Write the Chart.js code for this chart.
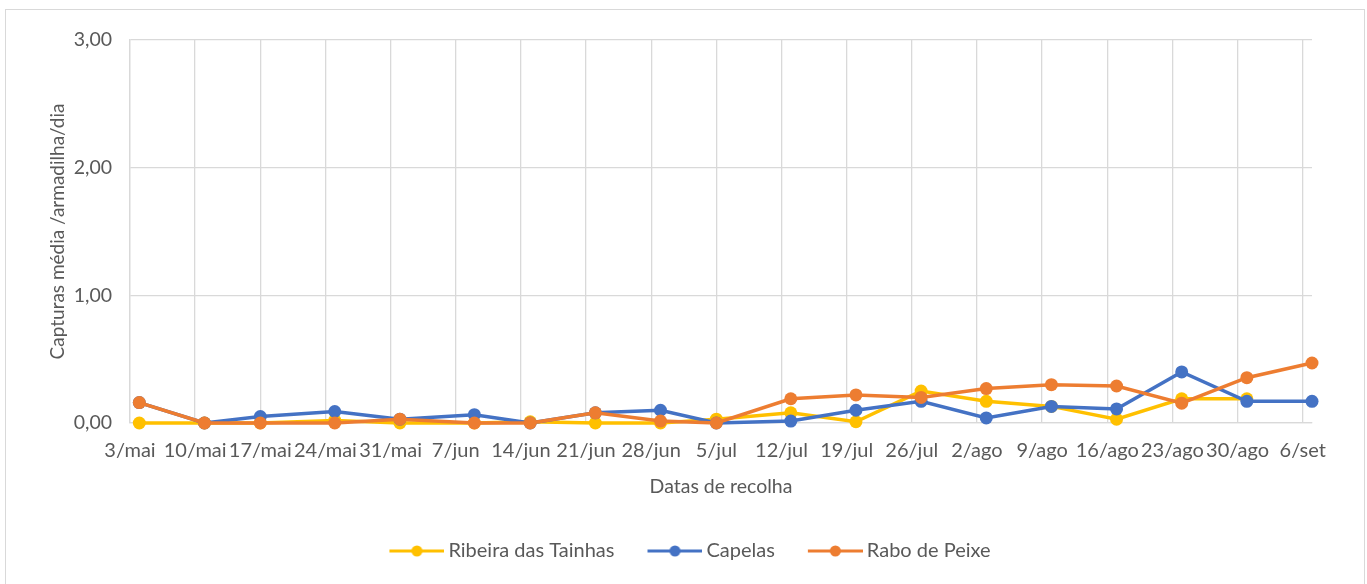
<!DOCTYPE html>
<html>
<head>
<meta charset="utf-8">
<script src="https://cdn.jsdelivr.net/npm/chart.js@4.4.0/dist/chart.umd.min.js"></script>
<style>
  body { margin: 0; background: #fff; }
  #wrap { position: relative; width: 1367px; height: 584px; overflow: hidden; }
  #frame { position: absolute; left: 5px; top: 9px; width: 1358px; height: 600px; border: 1.5px solid #d9d9d9; pointer-events: none; }
  canvas { position: absolute; left: 0; top: 0; }
</style>
</head>
<body>
<div id="wrap">
  <div id="frame"></div>
  <canvas id="capturas" width="1367" height="584"></canvas>
</div>
<script>
// Datas de recolha (eixo) e dias reais de cada recolha, contados desde 3/mai
const dateLabels = ["3/mai", "10/mai", "17/mai", "24/mai", "31/mai", "7/jun", "14/jun", "21/jun", "28/jun", "5/jul",
  "12/jul", "19/jul", "26/jul", "2/ago", "9/ago", "16/ago", "23/ago", "30/ago", "6/set"];
const sampleDays = [1, 8, 14, 22, 29, 37, 43, 50, 57, 63, 71, 78, 85, 92, 99, 106, 113, 120, 127];

// Capturas médias por armadilha/dia
const ribeira = [0, 0, 0, 0.02, 0, 0, 0.01, 0, 0, 0.03, 0.08, 0.01, 0.25, 0.17, 0.13, 0.03, 0.19, 0.19, null];
const capelas = [0.16, 0, 0.05, 0.09, 0.03, 0.065, 0, 0.08, 0.10, 0, 0.015, 0.10, 0.17, 0.04, 0.13, 0.11, 0.40, 0.17, 0.17];
const rabo = [0.16, 0, 0, 0, 0.03, 0, 0, 0.08, 0.015, 0, 0.19, 0.22, 0.20, 0.27, 0.30, 0.29, 0.155, 0.355, 0.47];

const yTicks = [0, 1, 2, 3];

const textColor = "#595959";
const gridColor = "#d9d9d9";
const fontFamily = "Lato, 'Open Sans', sans-serif";

function toPoints(values) {
  return values.map((v, i) => ({ x: sampleDays[i], y: v }));
}

// icon for the legend: short line with a dot in the middle
function legendIcon(color) {
  const c = document.createElement("canvas");
  c.width = 61;
  c.height = 14;
  const g = c.getContext("2d");
  g.strokeStyle = color;
  g.lineWidth = 3.2;
  g.beginPath();
  g.moveTo(6, 7);
  g.lineTo(61, 7);
  g.stroke();
  g.fillStyle = color;
  g.beginPath();
  g.arc(33.5, 7, 5.5, 0, Math.PI * 2);
  g.fill();
  return c;
}

function makeSet(label, values, color, order) {
  return {
    label: label,
    data: toPoints(values),
    borderColor: color,
    backgroundColor: color,
    borderWidth: 3.5,
    pointRadius: 6.5,
    pointHoverRadius: 6.5,
    pointBorderWidth: 0,
    pointBackgroundColor: color,
    tension: 0,
    clip: false,
    order: order,
    icon: legendIcon(color),
  };
}

// legend sits a bit right of centre in the original
const legendShift = {
  id: "legendShift",
  afterLayout(chart) {
    if (chart.legend) {
      chart.legend.left += 19;
      chart.legend.right += 19;
    }
  },
};

const ctx = document.getElementById("capturas").getContext("2d");
new Chart(ctx, {
  type: "line",
  data: {
    datasets: [
      makeSet("Ribeira das Tainhas", ribeira, "#FFC000", 3),
      makeSet("Capelas", capelas, "#4472C4", 2),
      makeSet("Rabo de Peixe", rabo, "#ED7D31", 1),
    ],
  },
  plugins: [legendShift],
  options: {
    responsive: false,
    animation: false,
    events: [],
    layout: {
      padding: { left: 30, top: 40, right: 55, bottom: 13 },
    },
    scales: {
      x: {
        type: "linear",
        min: 0,
        max: 127,
        afterBuildTicks: scale => {
          scale.ticks = dateLabels.map((_, i) => ({ value: i * 7 }));
        },
        afterFit: scale => {
          scale.height = 85;
        },
        ticks: {
          autoSkip: false,
          maxRotation: 0,
          padding: 16,
          color: textColor,
          font: { family: fontFamily, size: 20 },
          callback: value => dateLabels[Math.round(value / 7)],
        },
        grid: { color: gridColor, lineWidth: 1.3, drawTicks: false },
        border: { color: gridColor, width: 1.3 },
        title: {
          display: true,
          text: "Datas de recolha",
          color: textColor,
          font: { family: fontFamily, size: 19.5 },
          padding: { top: 0, bottom: 10 },
        },
      },
      y: {
        min: 0,
        max: 3,
        afterBuildTicks: scale => {
          scale.ticks = yTicks.map(v => ({ value: v }));
        },
        afterFit: scale => {
          scale.width = 100;
        },
        ticks: {
          padding: 18,
          color: textColor,
          font: { family: fontFamily, size: 19.5 },
          callback: value => value.toFixed(2).replace(".", ","),
        },
        grid: { color: gridColor, lineWidth: 1.3, drawTicks: false },
        border: { color: gridColor, width: 1.3 },
        title: {
          display: true,
          text: "Capturas média /armadilha/dia",
          color: textColor,
          font: { family: fontFamily, size: 19 },
          padding: { top: 16, bottom: 0 },
        },
      },
    },
    plugins: {
      tooltip: { enabled: false },
      legend: {
        display: true,
        position: "bottom",
        labels: {
          usePointStyle: true,
          pointStyleWidth: 49,
          padding: 33,
          color: textColor,
          font: { family: fontFamily, size: 20 },
          sort: (a, b) => a.datasetIndex - b.datasetIndex,
          generateLabels: chart => {
            const items = Chart.defaults.plugins.legend.labels.generateLabels(chart);
            items.forEach(item => {
              item.pointStyle = chart.data.datasets[item.datasetIndex].icon;
            });
            return items;
          },
        },
      },
    },
  },
});
</script>
</body>
</html>
